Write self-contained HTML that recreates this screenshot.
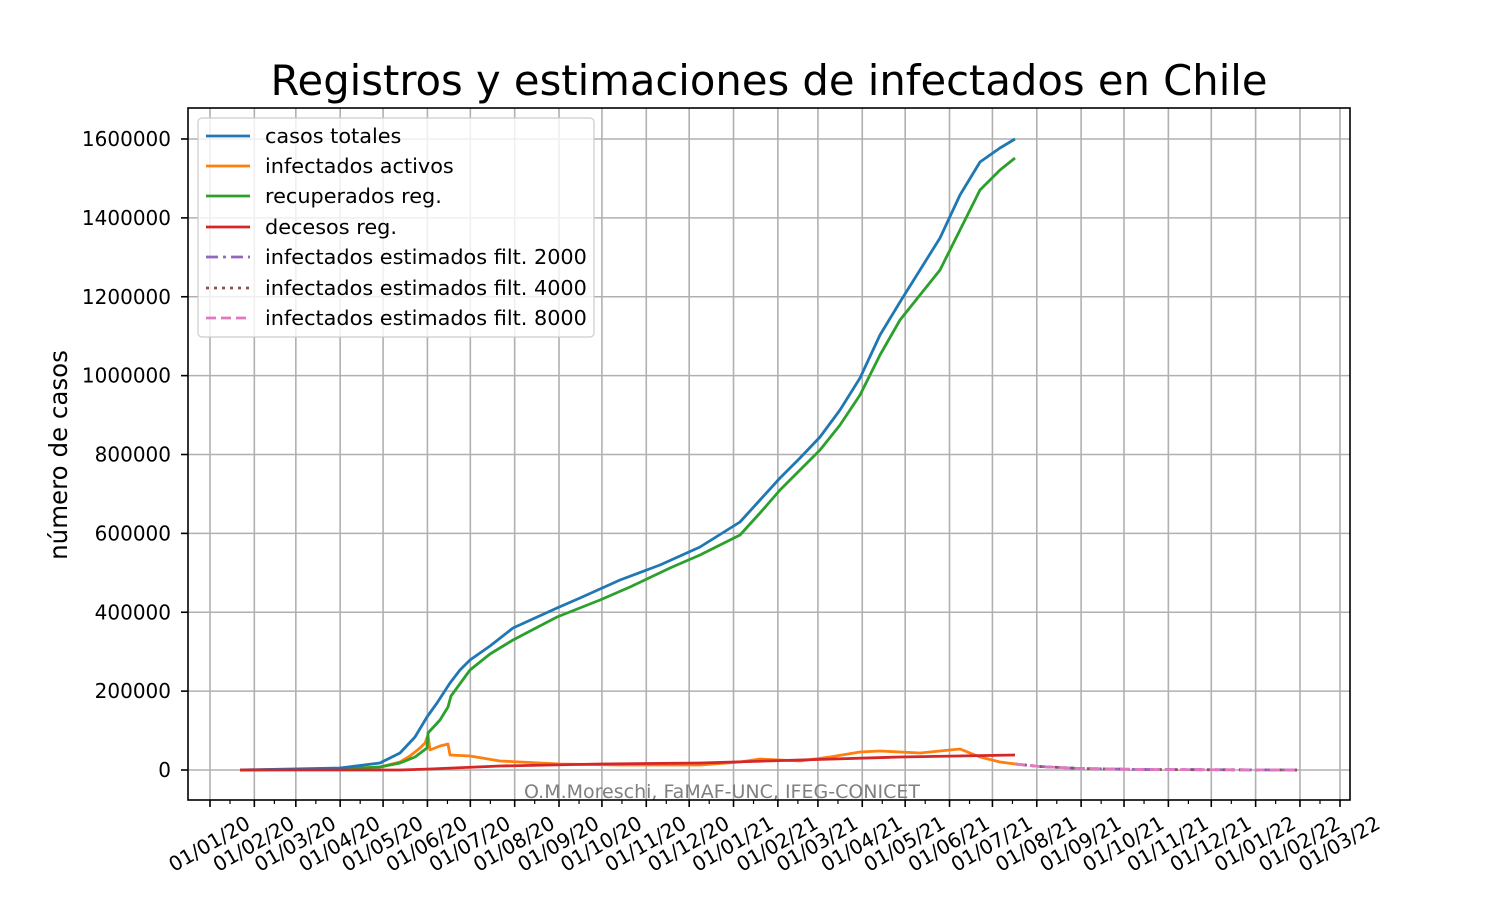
<!DOCTYPE html>
<html><head><meta charset="utf-8"><style>body{margin:0;background:#fff}svg{display:block}text{font-family:"DejaVu Sans","Liberation Sans",sans-serif}</style></head>
<body>
<svg id="s" width="1500" height="900" xmlns="http://www.w3.org/2000/svg">
<rect width="1500" height="900" fill="#fff"/>
<text x="769" y="95" font-size="41.7" text-anchor="middle" fill="#000">Registros y estimaciones de infectados en Chile</text>
<text transform="translate(67,455) rotate(-90)" font-size="24.5" text-anchor="middle">número de casos</text>
<g id="grid" stroke="#b0b0b0" stroke-width="1.6"></g>
<g id="ticks"></g>
<g fill="none" stroke-width="2.8" stroke-linejoin="round">
<polyline stroke="#ff7f0e" points="240,770 340,769 380,767 400,762 410,756 420,748 425,743 428,735 430,750 440,746 448,744 450,755 470,756 500,761 560,764 620,765 700,765 740,762 760,759 800,761 830,757 860,752 880,751 920,753 960,749 980,757 1000,762 1015,764"/>
<polyline stroke="#2ca02c" points="240,770 340,769 380,767 400,763 415,757 427,748 428,733 440,720 448,707 451,696 470,670 490,654 513,640 557,617 600,600 630,587 670,568 700,555 740,535 760,513 780,490 800,470 820,450 840,425 860,395 880,355 900,320 920,295 940,270 960,230 980,190 1000,170 1015,158"/>
<polyline stroke="#1f77b4" points="240,770 340,768 380,763 400,753 415,737 427,717 437,703 450,683 460,670 470,660 490,646 513,628 557,608 580,598 620,580 660,565 700,547 740,522 760,500 780,478 800,458 820,437 840,410 860,378 880,335 900,302 920,270 940,238 960,195 980,162 1000,148 1015,139"/>
<polyline stroke="#d62728" points="240,770 400,770 430,769 500,766 600,764 700,763 800,760 900,757 1015,755"/>
<polyline stroke="#9467bd" stroke-dasharray="12,5,3,5" points="1015,764 1040,766.5 1080,768.5 1140,769.5 1297,770"/>
<polyline stroke="#8c564b" stroke-dasharray="3,5" points="1015,764 1040,766.5 1080,768.5 1140,769.5 1297,770"/>
<polyline stroke="#e377c2" stroke-dasharray="10,5" points="1015,764 1040,766.5 1080,768.5 1140,769.5 1297,770"/>
</g>
<text x="722" y="798" font-size="19" fill="#808080" text-anchor="middle">O.M.Moreschi, FaMAF-UNC, IFEG-CONICET</text>
<rect x="188" y="108" width="1162" height="692" fill="none" stroke="#000" stroke-width="1.6"/>
<g>
<rect x="198" y="118" width="396" height="219" rx="4" fill="#fff" fill-opacity="0.8" stroke="#ccc" stroke-width="1.2"/>
<g stroke-width="2.8">
<line x1="206" y1="136" x2="250" y2="136" stroke="#1f77b4"/>
<line x1="206" y1="166" x2="250" y2="166" stroke="#ff7f0e"/>
<line x1="206" y1="196" x2="250" y2="196" stroke="#2ca02c"/>
<line x1="206" y1="227" x2="250" y2="227" stroke="#d62728"/>
<line x1="206" y1="257" x2="250" y2="257" stroke="#9467bd" stroke-dasharray="12,5,3,5"/>
<line x1="206" y1="288" x2="250" y2="288" stroke="#8c564b" stroke-dasharray="3,5"/>
<line x1="206" y1="318" x2="250" y2="318" stroke="#e377c2" stroke-dasharray="10,5"/>
</g>
<g font-size="20.8" fill="#000">
<text x="265" y="143">casos totales</text>
<text x="265" y="173">infectados activos</text>
<text x="265" y="203">recuperados reg.</text>
<text x="265" y="234">decesos reg.</text>
<text x="265" y="264">infectados estimados filt. 2000</text>
<text x="265" y="295">infectados estimados filt. 4000</text>
<text x="265" y="325">infectados estimados filt. 8000</text>
</g>
</g>
</svg>
<script>
var NS="http://www.w3.org/2000/svg",g=document.getElementById('grid'),t=document.getElementById('ticks');
function el(p,n,a,txt){var e=document.createElementNS(NS,n);for(var k in a)e.setAttribute(k,a[k]);if(txt)e.textContent=txt;p.appendChild(e);return e;}
for(var i=0;i<=8;i++){var y=770-i*78.875;el(g,'line',{x1:188,x2:1350,y1:y,y2:y});
el(t,'line',{x1:181,x2:188,y1:y,y2:y,stroke:'#000','stroke-width':1.6});
el(t,'text',{x:171,y:y+7,'font-size':20,'text-anchor':'end'},String(i*200000));}
var days=[0,31,60,91,121,152,182,213,244,274,305,335,366,397,425,456,486,517,547,578,609,639,670,700,731,762,790];
var lab=["01/01/20","01/02/20","01/03/20","01/04/20","01/05/20","01/06/20","01/07/20","01/08/20","01/09/20","01/10/20","01/11/20","01/12/20","01/01/21","01/02/21","01/03/21","01/04/21","01/05/21","01/06/21","01/07/21","01/08/21","01/09/21","01/10/21","01/11/21","01/12/21","01/01/22","01/02/22","01/03/22"];
for(var i=0;i<days.length;i++){var x=210+days[i]*1.4304;
el(g,'line',{x1:x,x2:x,y1:108,y2:800});
el(t,'line',{x1:x,x2:x,y1:800,y2:807,stroke:'#000','stroke-width':1.6});
if(i<days.length-1){var xm=210+(days[i]+14)*1.4304;el(t,'line',{x1:xm,x2:xm,y1:800,y2:804,stroke:'#000','stroke-width':1.2});}
el(t,'text',{transform:'translate('+x+',845) rotate(-30)','font-size':20,'text-anchor':'middle','dominant-baseline':'middle'},lab[i]);}
</script>
</body></html>
